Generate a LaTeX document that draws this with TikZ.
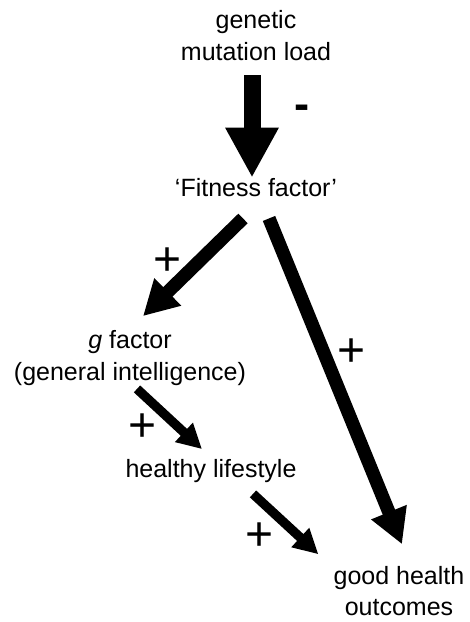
\documentclass[tikz,border=0pt]{standalone}
\usepackage{fontspec}
\setmainfont{Liberation Sans}
\usetikzlibrary{arrows.meta}
\tikzstyle{txt}=[align=center, inner sep=0pt, font=\fontsize{18.75}{24}\selectfont]
\tikzstyle{sgn}=[inner sep=0pt, font=\fontsize{36}{36}\selectfont]
\tikzstyle{huge arr}=[line width=12.75pt, -{Triangle[length=37.5pt, width=37.5pt]}]
\tikzstyle{big arr}=[line width=10pt, -{Triangle[length=26pt, width=27pt]}]
\tikzstyle{small arr}=[line width=7pt, -{Triangle[length=18.5pt, width=18.5pt]}]

\begin{document}
\begin{tikzpicture}[x=0.75pt, y=-0.75pt]
  \useasboundingbox (0,0) rectangle (469,622);
  % the five factors
  \node[txt] (load) at (256,36) {genetic\\mutation load};
  \node[txt] (fit) at (256,188) {‘Fitness factor’};
  \node[txt] (gfac) at (130,358) {\textit{g} factor\\(general intelligence)};
  \node[txt] (life) at (211,471) {healthy lifestyle};
  \node[txt, font=\fontsize{18.75}{23}\selectfont] (good) at (399,591) {good health\\outcomes};
  % arrows
  \draw[huge arr] ([shift={(-4,14)}]load.south) -- ([shift={(-4,-1)}]fit.north);
  \draw[big arr] ([shift={(-13,21)}]fit.south) -- ([shift={(13,-14)}]gfac.north);
  \draw[big arr] ([shift={(13,21)}]fit.south) -- ([shift={(3,-22)}]good.north);
  \draw[small arr] ([shift={(7,3)}]gfac.south) -- ([shift={(-9,-10)}]life.north);
  \draw[small arr] ([shift={(42,11)}]life.south) -- ([shift={(-15,-12)}]good.north west);
  % signs
  \node[sgn, font=\fontsize{34}{34}\bfseries] (minus) at (302,112) {-};
  \node[sgn] (plus1) at (168,262) {+};
  \node[sgn] (plus2) at (352,353) {+};
  \node[sgn] (plus3) at (143,428) {+};
  \node[sgn] (plus4) at (260,537) {+};
\end{tikzpicture}
\end{document}
